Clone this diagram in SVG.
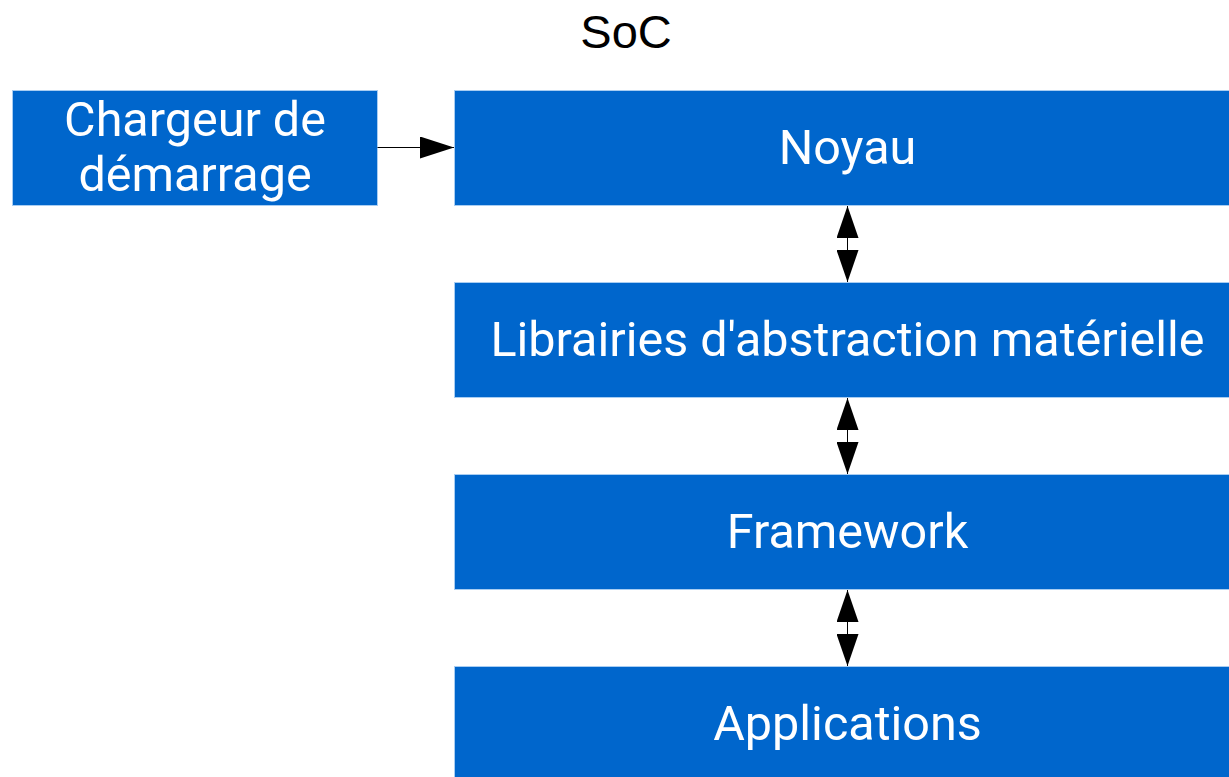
<svg xmlns="http://www.w3.org/2000/svg" width="1229" height="777" viewBox="0 0 1229 777">
<defs>
<style>
.box{fill:#0066cc;stroke:#a8cdf2;stroke-width:1}
.lbl{font-family:Roboto,"Liberation Sans",sans-serif;font-size:48.5px;fill:#ffffff;text-anchor:middle}
.title{font-family:"Liberation Sans",Arial,sans-serif;font-size:47px;fill:#000000;text-anchor:middle}
.conn{stroke:#000000;stroke-width:1;fill:none}
</style>
<marker id="ah" markerWidth="34" markerHeight="22" refX="34" refY="11" orient="auto-start-reverse" markerUnits="userSpaceOnUse">
<path d="M0,0 L34,11 L0,22 Z" fill="#000000"/>
</marker>
<marker id="ahv" markerWidth="32" markerHeight="22" refX="32" refY="11" orient="auto-start-reverse" markerUnits="userSpaceOnUse">
<path d="M0,0 L32,11 L0,22 Z" fill="#000000"/>
</marker>
</defs>
<text class="title" x="626" y="48">SoC</text>
<g id="chargeur">
<rect class="box" x="12.5" y="90.5" width="365" height="115"/>
<text class="lbl" x="195" y="136">Chargeur de</text>
<text class="lbl" x="195" y="191">démarrage</text>
</g>
<g id="noyau">
<rect class="box" x="454.5" y="90.5" width="790" height="115"/>
<text class="lbl" x="847.5" y="164">Noyau</text>
</g>
<g id="hal">
<rect class="box" x="454.5" y="282.5" width="790" height="115"/>
<text class="lbl" x="847.5" y="356">Librairies d'abstraction matérielle</text>
</g>
<g id="framework">
<rect class="box" x="454.5" y="474.5" width="790" height="115"/>
<text class="lbl" x="847.5" y="548">Framework</text>
</g>
<g id="applications">
<rect class="box" x="454.5" y="666.5" width="790" height="130"/>
<text class="lbl" x="847.5" y="740">Applications</text>
</g>
<g id="connectors">
<line class="conn" x1="377.5" y1="147.5" x2="454" y2="147.5" marker-end="url(#ah)"/>
<line class="conn" x1="847.5" y1="206" x2="847.5" y2="282" marker-start="url(#ahv)" marker-end="url(#ahv)"/>
<line class="conn" x1="847.5" y1="398" x2="847.5" y2="474" marker-start="url(#ahv)" marker-end="url(#ahv)"/>
<line class="conn" x1="847.5" y1="590" x2="847.5" y2="666" marker-start="url(#ahv)" marker-end="url(#ahv)"/>
</g>
</svg>
